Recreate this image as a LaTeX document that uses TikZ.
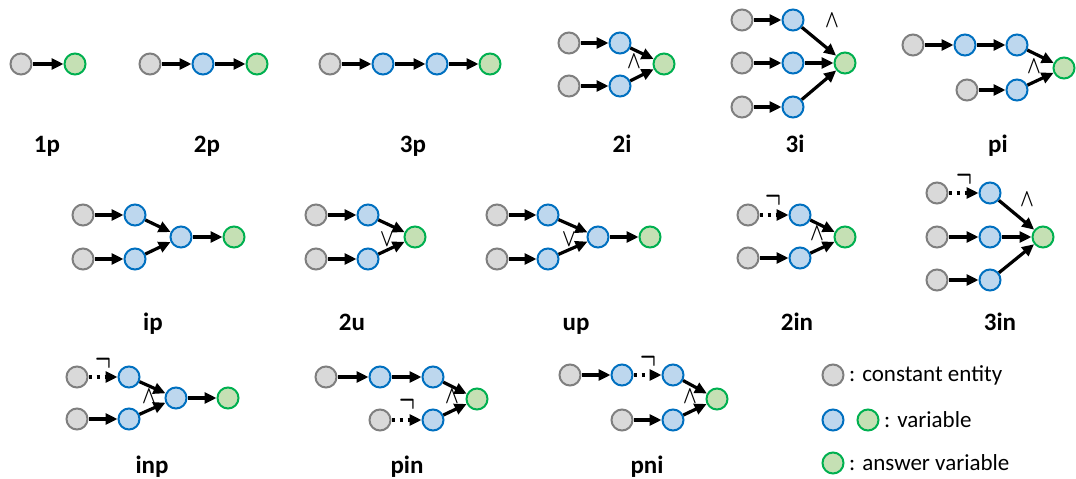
\documentclass[tikz,border=0pt]{standalone}
\usepackage{fontspec}
\usepackage{graphicx}
\setmainfont{Carlito}
\usetikzlibrary{arrows.meta}
\definecolor{cgf}{HTML}{D9D9D9}
\definecolor{cgd}{HTML}{7F7F7F}
\definecolor{cbf}{HTML}{BDD7EE}
\definecolor{cbd}{HTML}{0070C0}
\definecolor{cnf}{HTML}{C5E0B4}
\definecolor{cnd}{HTML}{00B050}
\newcommand{\myand}{\scalebox{0.72}[1]{\boldmath$\wedge$}}
\newcommand{\myor}{\scalebox{0.72}[1]{\boldmath$\vee$}}
\newcommand{\mynot}{\scalebox{1}[1.6]{\boldmath$\neg$}}
\begin{document}
\begin{tikzpicture}[x=1pt,y=-1pt,
 ent/.style={circle,minimum size=21pt,inner sep=0pt,line width=2pt},
 cst/.style={ent,draw=cgd,fill=cgf},
 var/.style={ent,draw=cbd,fill=cbf},
 ans/.style={ent,draw=cnd,fill=cnf},
 arr/.style={line width=3.2pt,-{Triangle[length=12pt,width=11pt]}},
 narr/.style={arr,dash pattern=on 3.5pt off 4.5pt},
 lab/.style={font=\fontsize{25}{30}\selectfont\bfseries, anchor=base},
 op/.style={font=\fontsize{28}{30}\selectfont, inner sep=0pt},
 ng/.style={font=\fontsize{22}{24}\selectfont, inner sep=0pt},
 leg/.style={font=\fontsize{23}{26}\selectfont, inner sep=0pt, anchor=west},
]
\useasboundingbox (0,0) rectangle (1076,479);
% 1p
\node[cst] (a1) at (21,64) {};
\node[ans] (a2) at (75,64) {};
\draw[arr] (a1) -- (a2);
\node[lab] (la) at (47,152) {1p};
% 2p
\node[cst] (b1) at (150,64) {};
\node[var] (b2) at (203,64) {};
\node[ans] (b3) at (257,64) {};
\draw[arr] (b1) -- (b2);
\draw[arr] (b2) -- (b3);
\node[lab] (lb) at (207,152) {2p};
% 3p
\node[cst] (c1) at (330,64) {};
\node[var] (c2) at (383,64) {};
\node[var] (c3) at (437,64) {};
\node[ans] (c4) at (490,64) {};
\draw[arr] (c1) -- (c2);
\draw[arr] (c2) -- (c3);
\draw[arr] (c3) -- (c4);
\node[lab] (lc) at (413,152) {3p};
% 2i
\node[cst] (d1) at (569,43) {};
\node[var] (d2) at (620,43) {};
\node[cst] (d3) at (569,86) {};
\node[var] (d4) at (620,86) {};
\node[ans] (d5) at (664,64) {};
\draw[arr] (d1) -- (d2);
\draw[arr] (d3) -- (d4);
\draw[arr] (d2) -- (d5);
\draw[arr] (d4) -- (d5);
\node[op] (do) at (634,62) {\myand};
\node[lab] (ld) at (622,152) {2i};
% 3i
\node[cst] (e1) at (742,20) {};
\node[var] (e2) at (793,20) {};
\node[cst] (e3) at (742,63) {};
\node[var] (e4) at (793,63) {};
\node[cst] (e5) at (742,107) {};
\node[var] (e6) at (793,107) {};
\node[ans] (e7) at (845,63) {};
\draw[arr] (e1) -- (e2);
\draw[arr] (e3) -- (e4);
\draw[arr] (e5) -- (e6);
\draw[arr] (e2) -- (e7);
\draw[arr] (e4) -- (e7);
\draw[arr] (e6) -- (e7);
\node[op] (eo) at (832,21) {\myand};
\node[lab] (le) at (795,152) {3i};
% pi
\node[cst] (f1) at (913,45) {};
\node[var] (f2) at (965,45) {};
\node[var] (f3) at (1017,45) {};
\node[cst] (f4) at (967,90) {};
\node[var] (f5) at (1017,90) {};
\node[ans] (f6) at (1064,68) {};
\draw[arr] (f1) -- (f2);
\draw[arr] (f2) -- (f3);
\draw[arr] (f4) -- (f5);
\draw[arr] (f3) -- (f6);
\draw[arr] (f5) -- (f6);
\node[op] (fo) at (1034,67) {\myand};
\node[lab] (lf) at (998,152) {pi};
% ip
\node[cst] (g1) at (83,215) {};
\node[var] (g2) at (135,215) {};
\node[cst] (g3) at (83,259) {};
\node[var] (g4) at (135,259) {};
\node[var] (g5) at (181,237) {};
\node[ans] (g6) at (234,237) {};
\draw[arr] (g1) -- (g2);
\draw[arr] (g3) -- (g4);
\draw[arr] (g2) -- (g5);
\draw[arr] (g4) -- (g5);
\draw[arr] (g5) -- (g6);
\node[lab] (lg) at (153,330) {ip};
% 2u
\node[cst] (h1) at (316,215) {};
\node[var] (h2) at (368,215) {};
\node[cst] (h3) at (316,259) {};
\node[var] (h4) at (368,259) {};
\node[ans] (h5) at (415,237) {};
\draw[arr] (h1) -- (h2);
\draw[arr] (h3) -- (h4);
\draw[arr] (h2) -- (h5);
\draw[arr] (h4) -- (h5);
\node[op] (ho) at (387,240) {\myor};
\node[lab] (lh) at (352,330) {2u};
% up
\node[cst] (i1) at (497,215) {};
\node[var] (i2) at (548,215) {};
\node[cst] (i3) at (497,259) {};
\node[var] (i4) at (548,259) {};
\node[var] (i5) at (598,237) {};
\node[ans] (i6) at (650,237) {};
\draw[arr] (i1) -- (i2);
\draw[arr] (i3) -- (i4);
\draw[arr] (i2) -- (i5);
\draw[arr] (i4) -- (i5);
\draw[arr] (i5) -- (i6);
\node[op] (io) at (569,240) {\myor};
\node[lab] (li) at (576,330) {up};
% 2in
\node[cst] (j1) at (748,215) {};
\node[var] (j2) at (800,215) {};
\node[cst] (j3) at (748,258) {};
\node[var] (j4) at (800,258) {};
\node[ans] (j5) at (845,237) {};
\draw[narr] (j1) -- (j2);
\draw[arr] (j3) -- (j4);
\draw[arr] (j2) -- (j5);
\draw[arr] (j4) -- (j5);
\node[ng] (jn) at (773,200) {\mynot};
\node[op] (jo) at (817,234) {\myand};
\node[lab] (lj) at (797,330) {2in};
% 3in
\node[cst] (k1) at (937,193) {};
\node[var] (k2) at (990,193) {};
\node[cst] (k3) at (937,237) {};
\node[var] (k4) at (990,237) {};
\node[cst] (k5) at (937,280) {};
\node[var] (k6) at (990,280) {};
\node[ans] (k7) at (1043,237) {};
\draw[narr] (k1) -- (k2);
\draw[arr] (k3) -- (k4);
\draw[arr] (k5) -- (k6);
\draw[arr] (k2) -- (k7);
\draw[arr] (k4) -- (k7);
\draw[arr] (k6) -- (k7);
\node[ng] (kn) at (964,179) {\mynot};
\node[op] (ko) at (1027,200) {\myand};
\node[lab] (lk) at (1000,330) {3in};
% inp
\node[cst] (l1) at (77,377) {};
\node[var] (l2) at (129,377) {};
\node[cst] (l3) at (77,419) {};
\node[var] (l4) at (129,419) {};
\node[var] (l5) at (176,398) {};
\node[ans] (l6) at (228,398) {};
\draw[narr] (l1) -- (l2);
\draw[arr] (l3) -- (l4);
\draw[arr] (l2) -- (l5);
\draw[arr] (l4) -- (l5);
\draw[arr] (l5) -- (l6);
\node[ng] (ln) at (103,363) {\mynot};
\node[op] (lo) at (149,397) {\myand};
\node[lab] (ll) at (152,473) {inp};
% pin
\node[cst] (m1) at (326,377) {};
\node[var] (m2) at (380,377) {};
\node[var] (m3) at (433,377) {};
\node[cst] (m4) at (380,420) {};
\node[var] (m5) at (433,420) {};
\node[ans] (m6) at (477,399) {};
\draw[arr] (m1) -- (m2);
\draw[arr] (m2) -- (m3);
\draw[narr] (m4) -- (m5);
\draw[arr] (m3) -- (m6);
\draw[arr] (m5) -- (m6);
\node[ng] (mn) at (407,404) {\mynot};
\node[op] (mo) at (452,397) {\myand};
\node[lab] (lm) at (407,473) {pin};
% pni
\node[cst] (n1) at (570,375) {};
\node[var] (n2) at (622,375) {};
\node[var] (n3) at (673,375) {};
\node[cst] (n4) at (622,420) {};
\node[var] (n5) at (673,420) {};
\node[ans] (n6) at (717,399) {};
\draw[arr] (n1) -- (n2);
\draw[narr] (n2) -- (n3);
\draw[arr] (n4) -- (n5);
\draw[arr] (n3) -- (n6);
\draw[arr] (n5) -- (n6);
\node[ng] (nn) at (648,361) {\mynot};
\node[op] (no) at (690,397) {\myand};
\node[lab] (ln2) at (647,473) {pni};
% legend
\node[cst] (q1) at (833,375) {};
\node[leg] (t1) at (849,375) {: constant entity};
\node[var] (q2) at (833,420) {};
\node[ans] (q3) at (868,420) {};
\node[leg] (t2) at (884,420) {: variable};
\node[ans] (q4) at (833,463) {};
\node[leg] (t3) at (849,463) {: answer variable};
\end{tikzpicture}
\end{document}
